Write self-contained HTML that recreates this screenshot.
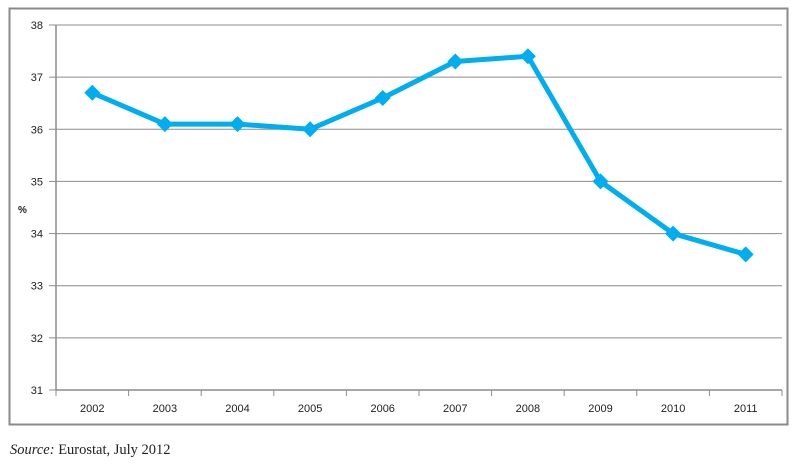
<!DOCTYPE html>
<html><head><meta charset="utf-8"><style>
html,body{margin:0;padding:0;background:#fff;}
body{width:800px;height:462px;overflow:hidden;font-family:"Liberation Sans",sans-serif;}
</style></head><body>
<svg width="800" height="462" xmlns="http://www.w3.org/2000/svg">
<rect x="9.5" y="8.5" width="778" height="416" fill="#fff" stroke="#8a8a8a" stroke-width="2"/>
<g id="grid"></g>
<g id="xaxis"></g>
<g id="yaxis"></g>
<text x="18" y="213" font-size="10" font-weight="bold" fill="#222">%</text>
<g id="series"></g>
<text x="10" y="454" font-family="Liberation Serif,serif" font-size="14.5" fill="#222"><tspan font-style="italic">Source:</tspan> Eurostat, July 2012</text>
</svg>
<script>
const categories=["2002","2003","2004","2005","2006","2007","2008","2009","2010","2011"];
const values=[36.7,36.1,36.1,36.0,36.6,37.3,37.4,35.0,34.0,33.6];
const yTicks=[31,32,33,34,35,36,37,38];
const NS="http://www.w3.org/2000/svg";
const L=56,R=782,T=25,B=390,yMin=31,yMax=38;
const band=(R-L)/categories.length;
const xs=i=>L+band*(i+0.5);
const ys=v=>B-(v-yMin)/(yMax-yMin)*(B-T);
function mk(t,a,p){const e=document.createElementNS(NS,t);for(const k in a)e.setAttribute(k,a[k]);p.appendChild(e);return e;}
const grid=document.getElementById('grid'),xa=document.getElementById('xaxis'),ya=document.getElementById('yaxis'),se=document.getElementById('series');
yTicks.forEach(v=>{
 const y=ys(v);
 if(v>yMin){const g=mk('line',{x1:L,x2:R,y1:y,y2:y,stroke:'#8c8c8c','stroke-width':1},grid);
 
 }
 const tk=mk('line',{x1:L-7,x2:L,y1:y,y2:y,stroke:'#8c8c8c','stroke-width':1},ya);
 
 
 const t=mk('text',{x:L-13,y:y+4,'text-anchor':'end','font-size':11,fill:'#222'},ya);
 t.textContent=v;
 
 
});
mk('line',{x1:L,x2:L,y1:T,y2:B,stroke:'#8c8c8c','stroke-width':1.5},ya);
mk('line',{x1:L,x2:R,y1:B,y2:B,stroke:'#8c8c8c','stroke-width':1.5},xa);
for(let i=0;i<=categories.length;i++){const x=L+band*i;mk('line',{x1:x,x2:x,y1:B,y2:B+6,stroke:'#8c8c8c','stroke-width':1},xa);}
categories.forEach((c,i)=>{
 const t=mk('text',{x:xs(i),y:B+22,'text-anchor':'middle','font-size':11,fill:'#222'},xa);
 t.textContent=c;
 
 
});
const pts=values.map((v,i)=>xs(i)+','+ys(v)).join(' ');
const pl=mk('polyline',{points:pts,fill:'none',stroke:'#00aeef','stroke-width':5,'stroke-linejoin':'round'},se);


values.forEach((v,i)=>{
 const x=xs(i),y=ys(v),s=8;
 const m=mk('polygon',{points:`${x},${y-s} ${x+s},${y} ${x},${y+s} ${x-s},${y}`,fill:'#00aeef'},se);
 
 
});
</script>
</body></html>
